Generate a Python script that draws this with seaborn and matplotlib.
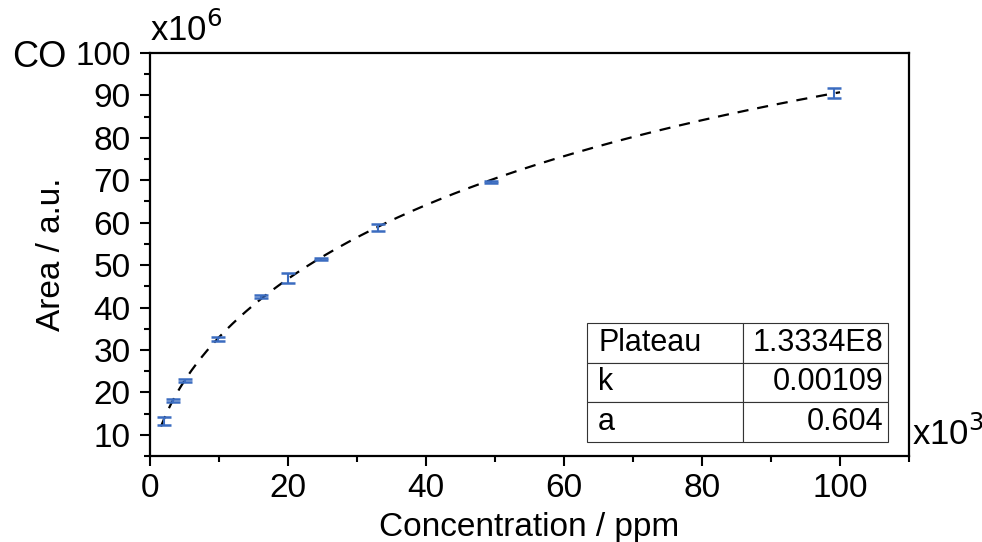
import numpy as np
import pandas as pd
import matplotlib
matplotlib.use("Agg")
import matplotlib.pyplot as plt
import seaborn as sns
from matplotlib.ticker import MultipleLocator

# Data (x in 10^3 ppm, y in 10^6 a.u.)
conc = [2.0, 3.3, 5.1, 9.9, 16.1, 20.0, 24.8, 33.0, 49.4, 99.1]
area = [13.3, 18.1, 22.8, 32.6, 42.6, 47.0, 51.4, 58.9, 69.6, 90.5]
err = [0.9, 0.3, 0.3, 0.5, 0.3, 1.2, 0.2, 0.8, 0.3, 1.2]

# Fit parameters shown in table
plateau = 1.3334e8
k = 0.00109
a = 0.604
param_names = ["Plateau", "k", "a"]
param_values = ["1.3334E8", "0.00109", "0.604"]

sns.set_theme(style="ticks")
plt.rcParams['font.family'] = ['Liberation Sans', 'DejaVu Sans']
plt.rcParams['text.color'] = 'black'
plt.rcParams['axes.labelcolor'] = 'black'
plt.rcParams['xtick.color'] = 'black'
plt.rcParams['ytick.color'] = 'black'

fig = plt.figure(figsize=(9.82, 5.42), dpi=100)
ax = fig.add_axes([0.1527, 0.1587, 0.7730, 0.7435])

# fit curve from table parameters
xf = np.linspace(1.6, 100, 400)
yf = plateau * (1 - np.exp(-k * (xf * 1e3) ** a)) / 1e6
fit_df = pd.DataFrame({"x": xf, "y": yf})
sns.lineplot(data=fit_df, x="x", y="y", ax=ax, color="black",
             linestyle=(0, (5, 4)), linewidth=1.6)

df = pd.DataFrame({"conc": conc, "area": area, "err": err})
ax.errorbar(df["conc"], df["area"], yerr=df["err"], fmt="none",
            ecolor="#3b6cc0", elinewidth=1.5, capsize=5, capthick=1.8, zorder=3)

ax.set_xlim(0, 110)
ax.set_ylim(5, 100)
ax.xaxis.set_major_locator(MultipleLocator(20))
ax.xaxis.set_minor_locator(MultipleLocator(10))
ax.yaxis.set_minor_locator(MultipleLocator(5))
ax.set_yticks([10, 20, 30, 40, 50, 60, 70, 80, 90, 100])

for s in ax.spines.values():
    s.set_linewidth(1.6)
    s.set_color("black")
ax.tick_params(which="major", direction="out", length=7, width=1.5,
               labelsize=24, colors="black", pad=5)
ax.tick_params(axis="y", which="major", pad=7)
ax.tick_params(which="minor", direction="out", length=4, width=1.5)

ax.set_xlabel("Concentration / ppm", fontsize=24, labelpad=6)
ax.set_ylabel("Area / a.u.", fontsize=24, labelpad=6)

fig.text(0.012, 1 - 67 / 542, "CO", fontsize=26, va="baseline", ha="left")
ax.text(0.0, 1.012, r"x10$^6$", transform=ax.transAxes, fontsize=25,
        ha="left", va="bottom")
ax.text(1.004, 0.027, r"x10$^3$", transform=ax.transAxes, fontsize=25,
        ha="left", va="baseline")

tab = ax.table(cellText=[[n, v] for n, v in zip(param_names, param_values)],
               colWidths=[0.52, 0.48],
               bbox=[0.576, 0.035, 0.396, 0.295], zorder=5)
tab.auto_set_font_size(False)
for (r, c), cell in tab.get_celld().items():
    cell.set_linewidth(0.8)
    cell.set_edgecolor("#333333")
    cell.PAD = 0.07 if c == 0 else 0.03
    loc = "left" if c == 0 else "right"
    cell._loc = loc
    t = cell.get_text()
    t.set_fontsize(22)
    t.set_color("black")
    t.set_ha(loc)

fig.savefig("out.png", dpi=100)
